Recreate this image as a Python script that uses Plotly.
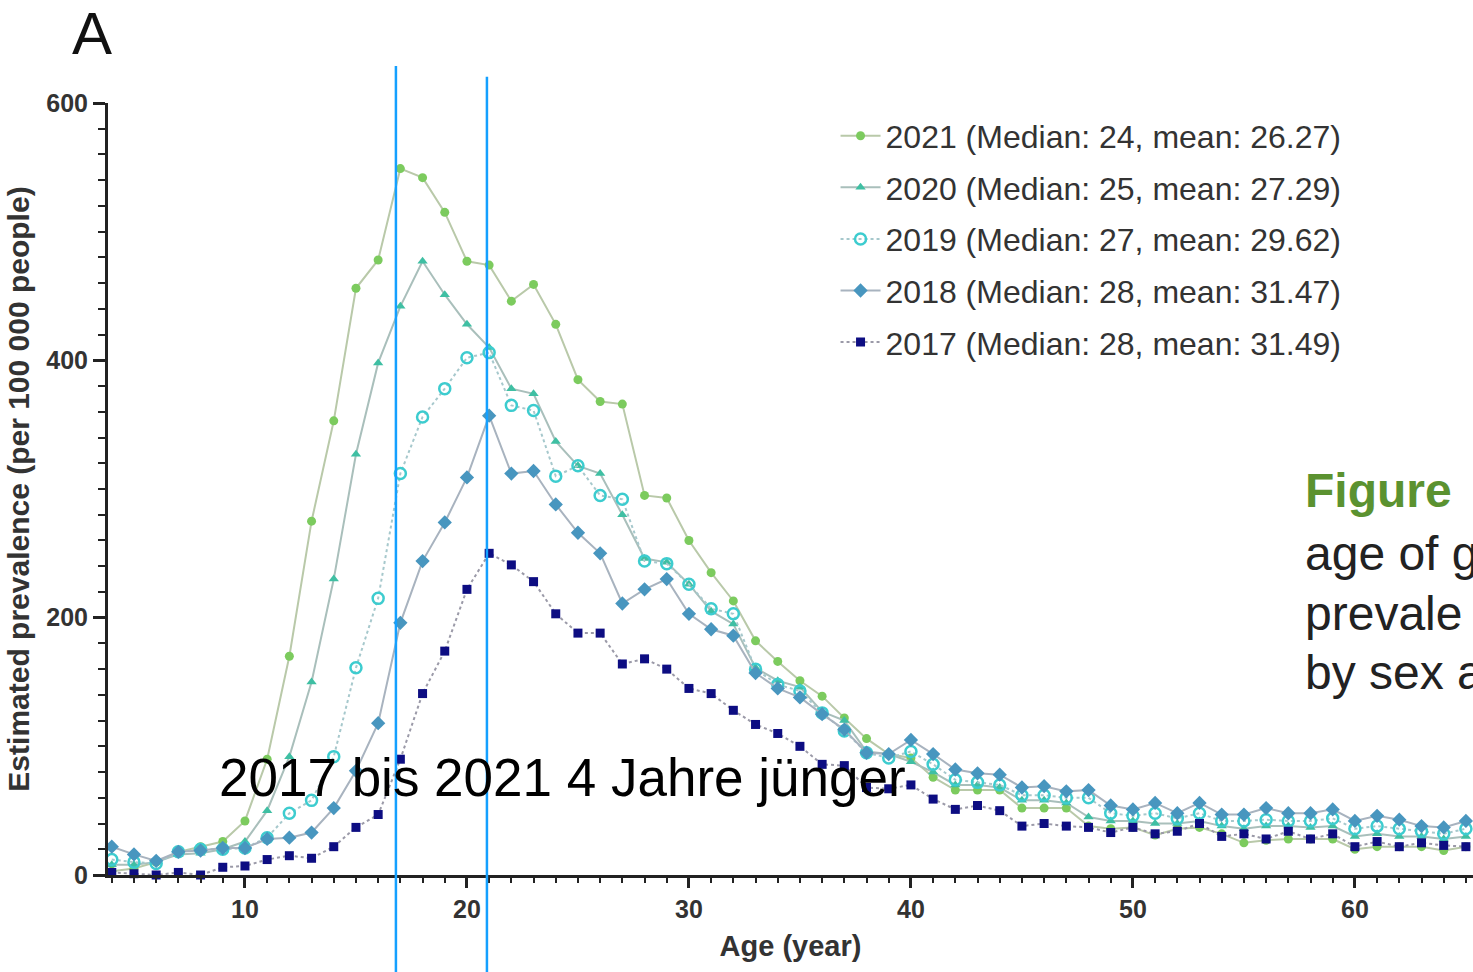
import plotly.graph_objects as go

# Age in years
ages = list(range(4, 66))

# Estimated prevalence per 100 000 people, by survey year
prev_2021 = [3, 5, 10, 18, 22, 26, 42, 90, 170, 275,
             353, 456, 478, 549, 542, 515, 477, 474, 446, 459,
             428, 385, 368, 366, 295, 293, 260, 235, 213, 182,
             166, 151, 139, 122, 106, 94, 91, 76, 66, 66,
             66, 52, 52, 52, 38, 36, 37, 31, 36, 37,
             32, 25, 27, 28, 28, 28, 20, 22, 22, 22,
             19, 22]
prev_2020 = [8, 8, 10, 16, 17, 20, 26, 50, 92, 150,
             230, 327, 398, 442, 477, 451, 428, 410, 378, 374,
             337, 318, 312, 280, 246, 243, 226, 205, 195, 161,
             151, 146, 127, 120, 96, 94, 88, 80, 70, 70,
             68, 58, 58, 56, 45, 42, 42, 40, 40, 42,
             38, 36, 38, 38, 37, 38, 30, 32, 30, 30,
             28, 30]
prev_2019 = [12, 10, 9, 18, 20, 20, 21, 29, 48, 58,
             92, 161, 215, 312, 356, 378, 402, 406, 365, 361,
             310, 318, 295, 292, 244, 242, 226, 207, 203, 160,
             148, 143, 126, 112, 95, 91, 96, 86, 74, 72,
             70, 62, 62, 60, 60, 48, 46, 48, 44, 48,
             42, 42, 43, 42, 42, 44, 36, 38, 36, 34,
             32, 36]
prev_2018 = [22, 16, 11, 18, 19, 21, 21, 28, 29, 33,
             52, 81, 118, 196, 244, 274, 309, 357, 312, 314,
             288, 266, 250, 211, 222, 230, 203, 191, 186, 157,
             145, 138, 125, 113, 95, 94, 105, 94, 82, 79,
             78, 68, 69, 65, 66, 54, 51, 56, 48, 56,
             47, 47, 52, 48, 48, 51, 42, 46, 43, 38,
             37, 42]
prev_2017 = [2, 1, 0, 2, 0, 6, 7, 12, 15, 13,
             22, 37, 47, 90, 141, 174, 222, 250, 241, 228,
             203, 188, 188, 164, 168, 160, 145, 141, 128, 117,
             110, 100, 86, 85, 68, 67, 70, 59, 51, 54,
             50, 38, 40, 38, 37, 33, 37, 32, 34, 40,
             30, 32, 28, 34, 28, 32, 22, 26, 22, 25,
             23, 22]

legend_names = [
    "2021 (Median: 24, mean: 26.27)",
    "2020 (Median: 25, mean: 27.29)",
    "2019 (Median: 27, mean: 29.62)",
    "2018 (Median: 28, mean: 31.47)",
    "2017 (Median: 28, mean: 31.49)",
]

series = [
    (prev_2021, legend_names[0], dict(symbol="circle", size=9, color="#7ccb5e"),
     dict(color="#b9c9a9", width=2, dash="solid")),
    (prev_2020, legend_names[1], dict(symbol="triangle-up", size=9, color="#3fbfa3"),
     dict(color="#a9bfbb", width=2, dash="solid")),
    (prev_2019, legend_names[2], dict(symbol="circle-open", size=11, color="#3dcccf",
                                      line=dict(width=2.5, color="#3dcccf")),
     dict(color="#a6c8cc", width=2, dash="dot")),
    (prev_2018, legend_names[3], dict(symbol="diamond", size=11, color="#4896bf"),
     dict(color="#a8b3bf", width=2, dash="solid")),
    (prev_2017, legend_names[4], dict(symbol="square", size=9, color="#0d0d82"),
     dict(color="#9b9aa8", width=2, dash="dot")),
]

fig = go.Figure()
for i, (vals, name, marker, line) in enumerate(series):
    fig.add_trace(go.Scatter(
        x=ages, y=vals, name=name, mode="lines+markers",
        marker=marker, line=line, cliponaxis=False,
        legendgroup=f"g{i}",
    ))

# Vertical guide lines at the two peak ages
for xv, ytop in [(16.8, 1.048), (20.9, 1.034)]:
    fig.add_shape(type="line", xref="x", yref="paper", x0=xv, x1=xv,
                  y0=-0.14, y1=ytop, line=dict(color="#14a0ff", width=2.5),
                  layer="above")

fig.add_annotation(text="2017 bis 2021 4 Jahre jünger", xref="paper", yref="paper",
                   x=(217 - 108) / 1365, y=(875 - 777) / 772, xanchor="left", yanchor="middle",
                   showarrow=False, font=dict(family="Liberation Sans, Arial", size=53, color="#000000"))

fig.add_annotation(text="A", xref="paper", yref="paper",
                   x=(70 - 108) / 1365, y=(875 - 34) / 772, xanchor="left", yanchor="middle",
                   showarrow=False, font=dict(family="Liberation Sans, Arial", size=60, color="#111111"))

fig.add_annotation(text="<b>Figure</b>", xref="paper", yref="paper",
                   x=(1303 - 108) / 1365, y=(875 - 490) / 772, xanchor="left", yanchor="middle",
                   showarrow=False, font=dict(family="Liberation Sans, Arial", size=48, color="#5b9230"))
for txt, yc in [("age of g", 553), ("prevale", 613), ("by sex a", 672)]:
    fig.add_annotation(text=txt, xref="paper", yref="paper",
                       x=(1303 - 108) / 1365, y=(875 - yc) / 772, xanchor="left", yanchor="middle",
                       showarrow=False, font=dict(family="Liberation Sans, Arial", size=48, color="#222222"))

axis_font = dict(family="Liberation Sans, Arial", size=25, color="#333333", weight="bold")
xtitle_font = dict(family="Liberation Sans, Arial", size=29, color="#333333", weight="bold")
ytitle_font = dict(family="Liberation Sans, Arial", size=30, color="#333333", weight="bold")

fig.update_layout(
    width=1473, height=972,
    margin=dict(l=108, r=0, t=103, b=97),
    paper_bgcolor="white", plot_bgcolor="white",
    showlegend=True,
    legend=dict(x=0.533, y=0.993, xanchor="left", yanchor="top",
                font=dict(family="Liberation Sans, Arial", size=32, color="#333333"),
                bgcolor="rgba(255,255,255,0)", tracegroupgap=7, traceorder="grouped",
                itemwidth=40),
    xaxis=dict(range=[3.83, 65.32], showgrid=False, zeroline=False,
               showline=True, linecolor="#222222", linewidth=3,
               ticks="outside", ticklen=10, tickwidth=2.5, tickcolor="#222222",
               tick0=0, dtick=10, tickfont=axis_font,
               minor=dict(ticks="outside", ticklen=5, tickwidth=2, tickcolor="#222222", dtick=1),
               title=dict(text="Age (year)", font=xtitle_font, standoff=14)),
    yaxis=dict(range=[0, 600], showgrid=False, zeroline=False,
               showline=True, linecolor="#222222", linewidth=3,
               ticks="outside", ticklen=12, tickwidth=2.5, tickcolor="#222222",
               tick0=0, dtick=200, tickfont=axis_font,
               minor=dict(ticks="outside", ticklen=7, tickwidth=2, tickcolor="#222222", dtick=20),
               title=dict(text="Estimated prevalence (per 100 000 people)", font=ytitle_font, standoff=8)),
)

fig.write_html("out.html")
